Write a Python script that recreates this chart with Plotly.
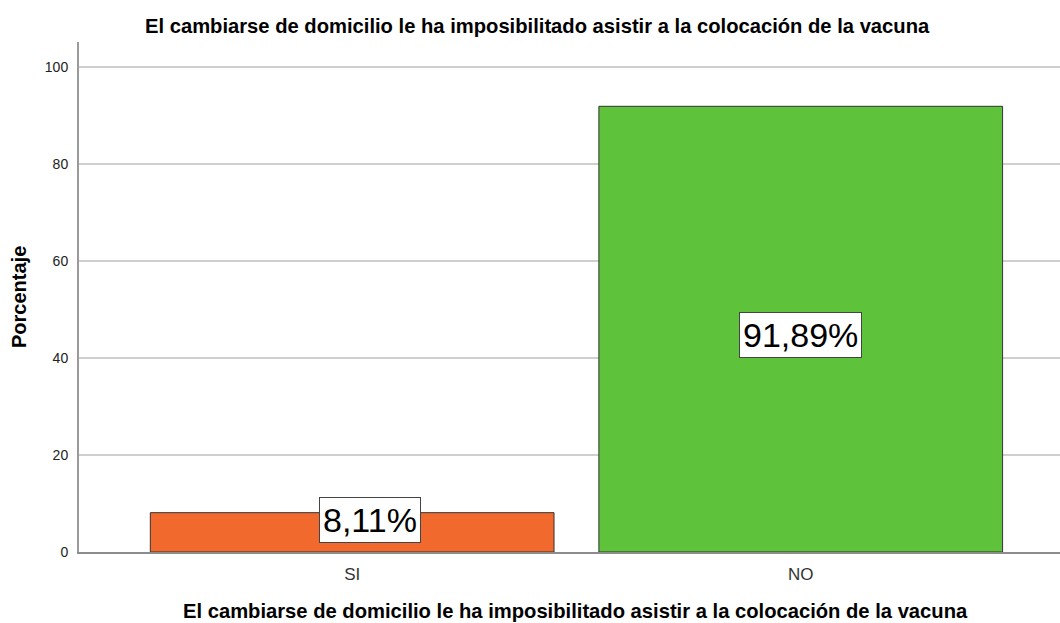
import plotly.graph_objects as go

categories = ["SI", "NO"]
values = [8.11, 91.89]
labels = ["8,11%", "91,89%"]
colors = ["#F2692D", "#5EC23A"]
y_ticks = [0, 20, 40, 60, 80, 100]

title = "El cambiarse de domicilio le ha imposibilitado asistir a la colocación de la vacuna"
FONT = "Liberation Sans, Arial"

W, H = 1060, 623
L, R, T, B = 79, 0, 42, 71


def px(xp):
    return (xp - L) / (W - L - R)


def py(yp):
    return (H - B - yp) / (H - T - B)


fig = go.Figure()
fig.add_trace(go.Bar(
    x=categories, y=values, width=0.9,
    marker=dict(color=colors, line=dict(color="#333333", width=1)),
    hoverinfo="skip",
))

# value labels (category index, y position in data units)
label_pos = [(0.04, 6.5), (1.0, 44.7)]
for (lx, ly), t in zip(label_pos, labels):
    fig.add_annotation(x=lx, y=ly, xref="x", yref="y", text=t, showarrow=False,
                       font=dict(family=FONT, size=34, color="#000000"),
                       bgcolor="#FFFFFF", bordercolor="#444444", borderwidth=1, borderpad=3)

# chart title
fig.add_annotation(x=px(537), y=py(26), xref="paper", yref="paper", xanchor="center", yanchor="middle",
                   text="<b>" + title + "</b>", showarrow=False,
                   font=dict(family=FONT, size=20.2, color="#000000"))
# x axis title
fig.add_annotation(x=px(575), y=py(611), xref="paper", yref="paper", xanchor="center", yanchor="middle",
                   text="<b>" + title + "</b>", showarrow=False,
                   font=dict(family=FONT, size=20.2, color="#000000"))
# y axis title
fig.add_annotation(x=px(19), y=py(297), xref="paper", yref="paper", xanchor="center", yanchor="middle",
                   text="<b>Porcentaje</b>", textangle=-90, showarrow=False,
                   font=dict(family=FONT, size=20, color="#000000"))

fig.update_layout(
    width=W, height=H,
    margin=dict(l=L, r=R, t=T, b=B, autoexpand=False),
    paper_bgcolor="white", plot_bgcolor="white",
    showlegend=False,
    font=dict(family=FONT, color="#222222"),
    xaxis=dict(
        range=[-0.609, 1.578], showgrid=False, zeroline=False, automargin=False,
        showline=True, linecolor="#8c8c8c", linewidth=1.5,
        ticks="", ticklabelstandoff=6, tickfont=dict(size=17, color="#333333"),
    ),
    yaxis=dict(
        range=[0, 105.15], tickvals=y_ticks, showgrid=True, gridcolor="#cfcfcf", gridwidth=1.5,
        zeroline=False, showline=True, linecolor="#9a9a9a", linewidth=2, automargin=False,
        ticks="", ticklabelstandoff=6, tickfont=dict(size=14, color="#222222"),
    ),
)

fig.write_html("out.html", config={"displayModeBar": False},
               post_script="document.body.style.margin='0';")
